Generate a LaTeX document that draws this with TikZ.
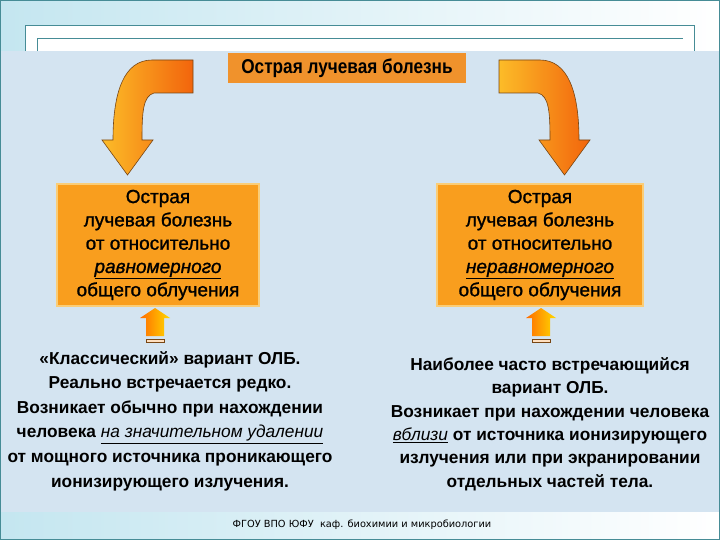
\documentclass[tikz,border=0pt]{standalone}
\usepackage{fontspec}
\setmainfont{Liberation Sans}
\newfontfamily\heavyfont[FakeBold=1.2]{Liberation Sans}
\newfontfamily\footfont{DejaVu Sans}

\definecolor{skyback}{RGB}{212,228,241}
\definecolor{stripcyan}{RGB}{196,230,240}
\definecolor{frameteal}{RGB}{70,140,150}
\definecolor{boxorange}{RGB}{249,158,30}
\definecolor{boxglow}{RGB}{250,205,120}
\definecolor{titleorange}{RGB}{240,146,44}
\definecolor{arrowred}{RGB}{242,100,12}
\definecolor{arrowyellow}{RGB}{252,188,40}
\definecolor{arrowedge}{RGB}{120,70,20}

\tikzset{
  olbbox/.style={fill=boxorange, draw=boxglow, line width=1.5pt, minimum height=122pt,
    inner sep=0pt, align=center, font=\heavyfont\fontsize{19}{23.3}\selectfont},
  note/.style={align=center, font=\bfseries\fontsize{17.3}{24.6}\selectfont},
  bentarrow/.style={draw=arrowedge, line width=0.6pt, left color=arrowyellow, right color=arrowred},
  uparrow/.style={left color=orange!85!red, right color=yellow!70!orange}
}

\begin{document}
\begin{tikzpicture}[x=1pt,y=-1pt]
\useasboundingbox (0,0) rectangle (720,540);
% background, header and footer strips
\shade[left color=stripcyan, right color=white] (0,0) rectangle (720,51);
\filldraw[fill=white, draw=frameteal] (25,51) -- (25,25) -- (694,25) -- (694,51);
\draw[frameteal] (37,51) -- (37,38) -- (683,38);
\fill[skyback] (0,51) rectangle (720,512);
\shade[left color=stripcyan, right color=white] (0,512) rectangle (720,540);
\draw[frameteal] (0.5,0.5) rectangle (719.5,539.5);

% title and the two cases
\node[fill=titleorange, minimum width=238pt, minimum height=30pt, inner sep=0pt] (title) at (347,68)
  {\bfseries\fontsize{20}{20}\selectfont\scalebox{0.86}[1]{Острая лучевая болезнь}};
\node[olbbox, minimum width=202pt] (even) at (158,245)
  {Острая\\лучевая болезнь\\от относительно\\\underline{\textit{равномерного}}\\общего облучения};
\node[olbbox, minimum width=206pt] (uneven) at (540,245)
  {Острая\\лучевая болезнь\\от относительно\\\underline{\textit{неравномерного}}\\общего облучения};

\node[note] (classic) at (170,421)
  {«Классический» вариант ОЛБ.\\Реально встречается редко.\\Возникает обычно при нахождении\\
   человека \underline{\textit{\mdseries на значительном удалении}}\\от мощного источника проникающего\\
   ионизирующего излучения.};
\node[note, font=\bfseries\fontsize{17.3}{23.4}\selectfont] (common) at (550,424)
  {Наиболее часто встречающийся\\вариант ОЛБ.\\Возникает при нахождении человека\\
   \underline{\textit{\mdseries вблизи}} от источника ионизирующего\\излучения или при экранировании\\
   отдельных частей тела.};

% bent arrows from the title
\foreach \flip/\shift in {1/0,-1/692}{
  \begin{scope}[xshift=\shift, xscale=\flip]
    \shadedraw[bentarrow] (193,60) -- (152,60) .. controls (124,60) and (113,92) .. (113,140)
      -- (102,140) -- (127.5,175) -- (153,140) -- (142,140)
      .. controls (142,112) and (143,96) .. (154,93) -- (193,93) -- cycle;
  \end{scope}
}

% small arrows up to the boxes
\foreach \c in {155,541}{
  \shade[uparrow] (\c-9,336) -- (\c-9,318) -- (\c-15,318) -- (\c,308) -- (\c+15,318)
    -- (\c+9,318) -- (\c+9,336) -- cycle;
  \filldraw[fill=orange!25, draw=arrowedge, line width=0.8pt] (\c-9,339) rectangle (\c+9,342.5);
}

\node[font=\footfont\fontsize{9.8}{11}\selectfont] (foot) at (362,525)
  {ФГОУ ВПО ЮФУ\ \ каф. биохимии и микробиологии};
\end{tikzpicture}
\end{document}
